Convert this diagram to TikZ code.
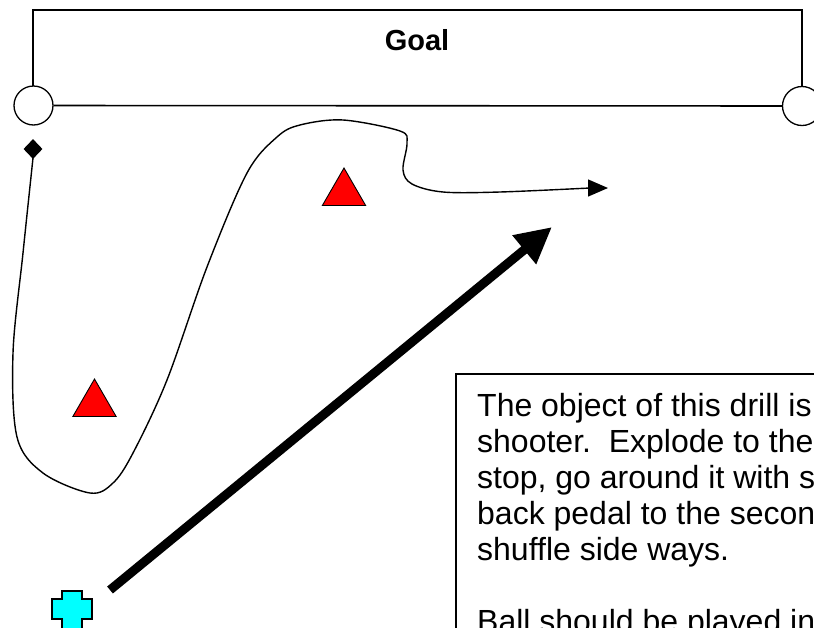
\documentclass[tikz,border=0pt]{standalone}
\usepackage{fontspec}
\setmainfont{Liberation Sans}
\usetikzlibrary{arrows.meta,shapes.geometric}
\definecolor{shootercyan}{RGB}{0,255,255}
\definecolor{conered}{RGB}{255,0,0}
\tikzset{
  postc/.style={circle,draw,fill=white,line width=1.3pt,minimum size=39pt,inner sep=0pt},
  cone/.style={regular polygon,regular polygon sides=3,draw,fill=conered,line width=0.9pt,minimum size=50pt,inner sep=0pt},
  runpath/.style={line width=1.4pt,-{Triangle[length=20pt,width=17pt]}},
  shotpath/.style={line width=9pt,-{Triangle[length=36pt,width=35pt]}},
  framebox/.style={line width=1.3pt},
  notetext/.style={font=\fontsize{32}{36}\selectfont,align=left,anchor=base west,inner sep=0pt},
}
\begin{document}
\begin{tikzpicture}[x=1pt,y=-1pt]
\useasboundingbox (0,0) rectangle (814,627);
\clip (0,0) rectangle (814,627);
% goal
\draw[framebox] (33,105) -- (33,10) -- (802,10) -- (802,105);
\node[font=\fontsize{29}{34}\selectfont\bfseries,anchor=base,inner sep=0pt] (goal) at (417,50) {Goal};
\node[postc] (lpost) at (33.5,105.5) {};
\node[postc] (rpost) at (802,106) {};
\draw[line width=1.6pt] (lpost) -- (rpost);
% start marker
\node[diamond,fill=black,minimum width=19pt,minimum height=20pt,inner sep=0pt] (start) at (33,149) {};
% cones
\node[cone] (cone1) at (344,193) {};
\node[cone] (cone2) at (94.5,404) {};
% run path
\coordinate (runend) at (608,188);
\draw[runpath] (start.south) plot[smooth,tension=0.55] coordinates {(33,158) (23,253) (13,353) (17,437) (43,473) (90,493) (113,483) (133,453) (167,380) (207,267) (247,173) (277,137) (300,125) (343,120) (400,131) (407,143) (403,170) (412,184) (443,192) (500,192) (590,188)} -- (runend);
% shooter
\coordinate (shooter) at (72,609);
\draw[fill=shootercyan,line width=1.2pt] (62,591) -- (82,591) -- (82,599) -- (92,599) -- (92,619) -- (82,619) -- (82,640) -- (62,640) -- (62,619) -- (52,619) -- (52,599) -- (62,599) -- cycle;
\coordinate (shotstart) at (110,590);
\coordinate (shotend) at (552,227);
\draw[shotpath] (shotstart) -- (shotend);
% note box
\draw[framebox] (456,700) -- (456,374) -- (900,374);
\node[notetext] (note) at (477,632) {The object of this drill is\\
shooter.~~Explode to the\\
stop, go around it with s\\
back pedal to the secon\\
shuffle side ways.\\[36pt]
Ball should be played in};
\end{tikzpicture}
\end{document}
